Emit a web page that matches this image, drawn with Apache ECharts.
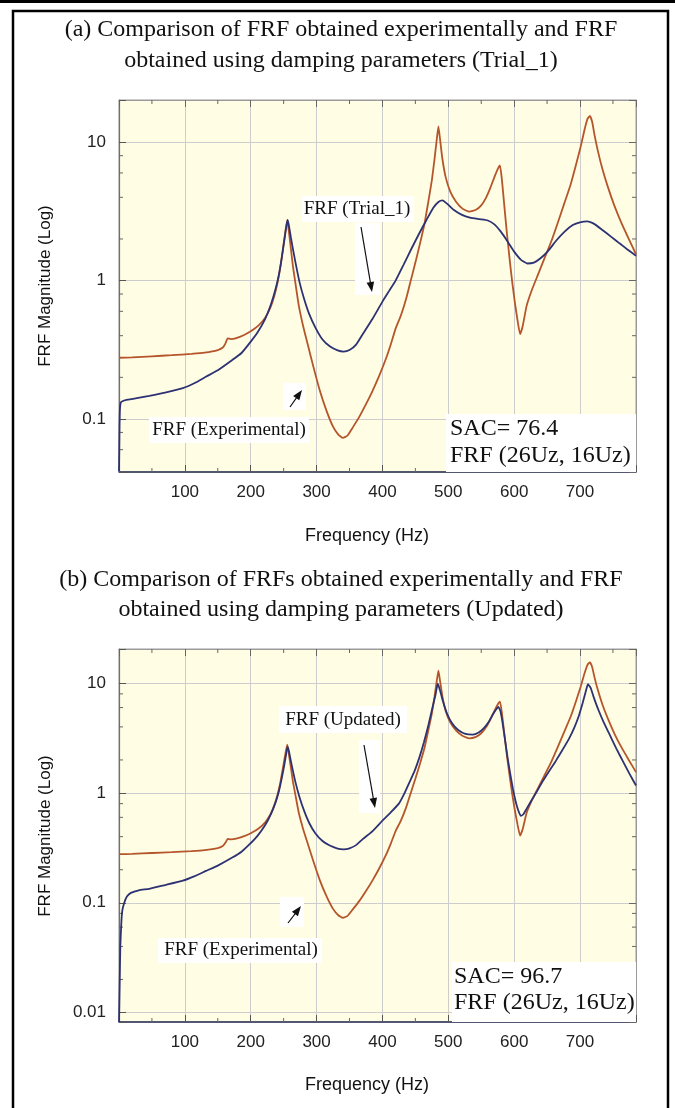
<!DOCTYPE html>
<html>
<head>
<meta charset="utf-8">
<script src="https://cdn.jsdelivr.net/npm/echarts@6/dist/echarts.min.js"></script>
<style>html,body{margin:0;padding:0;background:#fff;}#c{width:675px;height:1108px;}</style>
</head>
<body>
<div id="c"></div>
<script>
// ---- Data ----
const expFreq = [0,20,50,80,110,130,150,158,162,165,170,178,190,200,212,222,230,236,241,245,249,252.5,255.5,258,261,264,268,273,280,287,295,305,315,325,333,340,347,355,365,375,385,395,405,413,420,428,436,443,450,457,464,470,475,479,482.5,485,487.5,491,496,503,512,522,532,542,550,557,564,570,575,578.5,581.5,585,589,593,597,601,605,609,613,619,627,636,646,656,666,676,686,694,701,707,711.5,715,718.5,722,727,734,742,752,763,774,785];
const expMag = [0.277,0.279,0.284,0.289,0.296,0.302,0.315,0.33,0.355,0.382,0.378,0.384,0.405,0.43,0.475,0.54,0.64,0.78,0.98,1.25,1.7,2.25,2.75,2.25,1.7,1.28,0.95,0.66,0.46,0.34,0.24,0.16,0.115,0.088,0.077,0.073,0.076,0.087,0.104,0.128,0.16,0.205,0.27,0.35,0.45,0.56,0.74,1.0,1.35,1.85,2.6,3.8,5.3,7.5,10.5,13.0,10.5,7.6,5.6,4.4,3.7,3.3,3.15,3.25,3.5,3.95,4.7,5.6,6.4,6.8,5.3,3.5,2.2,1.45,0.98,0.7,0.52,0.41,0.47,0.66,0.86,1.1,1.45,1.9,2.6,3.6,5.0,6.9,9.3,12.4,14.8,15.5,14.0,11.3,8.7,6.4,4.8,3.5,2.6,2.0,1.55];

const trialFreq = [0,0.4,0.8,1.3,2,3,6,10,25,46,70,97,115,132,150,172,186,198,210,222,231,238,243,247,251,254,256,258,261,264,268,274,281,289,298,309,320,332,341,350,360,370,385,400,410,420,432,444,456,467,477,485,491,498,508,520,533,547,560,570,580,590,600,610,620,630,640,652,664,677,689,700,711,722,734,747,760,772,785];
const trialMag = [0.042,0.06,0.09,0.115,0.127,0.132,0.135,0.137,0.141,0.147,0.155,0.167,0.182,0.202,0.225,0.267,0.3,0.352,0.42,0.53,0.68,0.88,1.12,1.45,1.95,2.45,2.75,2.5,2.05,1.7,1.35,0.98,0.74,0.57,0.46,0.375,0.335,0.313,0.307,0.315,0.345,0.41,0.53,0.705,0.84,1.0,1.3,1.7,2.2,2.75,3.35,3.7,3.8,3.6,3.25,3.0,2.85,2.78,2.72,2.55,2.25,1.92,1.62,1.42,1.33,1.35,1.45,1.65,1.95,2.27,2.52,2.64,2.68,2.56,2.32,2.08,1.86,1.68,1.51];

const updFreq = [0,0.5,1,2,3.5,5,8,12,18,30,46,70,97,115,132,150,172,186,198,210,222,231,238,243,247,251,254,256,258,261,264,268,274,281,289,298,309,320,332,341,350,360,370,385,400,412,425,433,441,449,456,463,470,476,480.5,484,487.5,492,498,506,515,526,537,546,554,561,567,572,576,579,582,586,590,594,598,602,606,610,614,619,626,634,643,653,663,673,683,691,698,704,708.5,712,716,721,728,736,745,755,765,775,785];
const updMag = [0.0082,0.012,0.018,0.04,0.065,0.085,0.1,0.114,0.123,0.13,0.134,0.145,0.159,0.175,0.195,0.218,0.258,0.292,0.34,0.405,0.51,0.65,0.83,1.05,1.35,1.8,2.3,2.63,2.4,1.95,1.6,1.25,0.92,0.69,0.53,0.43,0.365,0.332,0.312,0.307,0.313,0.335,0.38,0.45,0.56,0.66,0.8,0.98,1.25,1.6,2.1,2.9,4.2,6.0,7.8,9.9,8.6,6.8,5.3,4.3,3.75,3.45,3.4,3.55,3.9,4.4,5.1,5.7,6.1,5.6,4.5,3.1,2.1,1.5,1.1,0.85,0.7,0.62,0.64,0.72,0.85,1.02,1.27,1.58,1.95,2.45,3.1,3.9,5.0,6.6,8.3,9.8,9.1,7.4,5.7,4.4,3.4,2.55,1.95,1.5,1.17];

const xTickLabels = ['100','200','300','400','500','600','700'];
const yTickLabels = {'-2':'0.01','-1':'0.1','0':'1','1':'10'};
const xMinorTicks = [50,150,250,350,450,550,650,750];
const yMinorTicks = [0.02,0.04,0.06,0.08,0.2,0.4,0.6,0.8,2,4,6,8];

const X_MIN = 0, X_MAX = 785;
const Y_RANGE = [[0.0414, 20.2],[0.0082, 20.5]];

// ---- Styles ----
const BROWN = '#b5552c', BLUE = '#2c3274';
const SERIF = '"Liberation Serif", "Times New Roman", serif';
const SANS = '"Liberation Sans", Arial, sans-serif';
const PLOT_BG = '#fffde3';

const zip = (a, b) => a.map((f, i) => [f, b[i]]);

const chart = echarts.init(document.getElementById('c'), null, {renderer: 'canvas'});

function xAxes(gi) {
  return [{
    gridIndex: gi, type: 'value', min: X_MIN, max: X_MAX, interval: 100, position: 'bottom',
    axisLine: {show: true, onZero: false, lineStyle: {color: '#2d3157', width: 1.5}},
    axisTick: {show: true, inside: true, length: 7, lineStyle: {color: '#555'}},
    axisLabel: {fontSize: 17, fontFamily: SANS, color: '#222', margin: 12,
      formatter: v => { const i = Math.round(v / 100) - 1; return (Math.abs(v % 100) < 1e-6 && xTickLabels[i]) ? xTickLabels[i] : ''; }},
    splitLine: {show: true, lineStyle: {color: '#cdcdcd', width: 1}}
  }, {
    gridIndex: gi, type: 'value', min: X_MIN, max: X_MAX, interval: 100, position: 'top',
    axisLine: {show: true, onZero: false, lineStyle: {color: '#9a9a9a'}},
    axisTick: {show: true, inside: true, length: 7, lineStyle: {color: '#666'}},
    axisLabel: {show: false}, splitLine: {show: false}
  }];
}
function yAxes(gi) {
  const [mn, mx] = Y_RANGE[gi];
  return [{
    gridIndex: gi, type: 'log', logBase: 10, min: mn, max: mx, position: 'left',
    axisLine: {show: true, onZero: false, lineStyle: {color: '#707070', width: 1.2}},
    axisTick: {show: true, inside: true, length: 7, lineStyle: {color: '#555'}},
    axisLabel: {fontSize: 17, fontFamily: SANS, color: '#222', margin: 13,
      formatter: v => { const l = Math.log10(v); const r = Math.round(l); return Math.abs(l - r) < 1e-6 && yTickLabels[r] ? yTickLabels[r] : ''; }},
    splitLine: {show: true, lineStyle: {color: '#cdcdcd', width: 1}}
  }, {
    gridIndex: gi, type: 'log', logBase: 10, min: mn, max: mx, position: 'right',
    axisLine: {show: true, onZero: false, lineStyle: {color: '#9a9a9a'}},
    axisTick: {show: true, inside: true, length: 7, lineStyle: {color: '#666'}},
    axisLabel: {show: false}, splitLine: {show: false}
  }];
}

function minorY(gi) {
  const [mn, mx] = Y_RANGE[gi];
  return {
    type: 'custom', xAxisIndex: gi * 2, yAxisIndex: gi * 2, silent: true, z: 5,
    data: yMinorTicks.filter(v => v > mn && v < mx).map(v => [X_MIN, v]),
    renderItem: (params, api) => {
      const v = api.value(1);
      const a = api.coord([X_MIN, v]), b = api.coord([X_MAX, v]);
      const st = {stroke: '#666', lineWidth: 1};
      return {type: 'group', children: [
        {type: 'line', shape: {x1: a[0], y1: a[1], x2: a[0] + 4, y2: a[1]}, style: st},
        {type: 'line', shape: {x1: b[0] - 4, y1: b[1], x2: b[0], y2: b[1]}, style: st}
      ]};
    }
  };
}
function minorX(gi) {
  const [mn, mx] = Y_RANGE[gi];
  return {
    type: 'custom', xAxisIndex: gi * 2, yAxisIndex: gi * 2, silent: true, z: 5,
    data: xMinorTicks.map(f => [f, mn]),
    renderItem: (params, api) => {
      const f = api.value(0);
      const a = api.coord([f, mn]), b = api.coord([f, mx]);
      const st = {stroke: '#666', lineWidth: 1};
      return {type: 'group', children: [
        {type: 'line', shape: {x1: a[0], y1: a[1], x2: a[0], y2: a[1] - 4}, style: st},
        {type: 'line', shape: {x1: b[0], y1: b[1], x2: b[0], y2: b[1] + 4}, style: st}
      ]};
    }
  };
}
function lineSeries(gi, data, color, z) {
  return {
    type: 'line', xAxisIndex: gi * 2, yAxisIndex: gi * 2, data: data,
    showSymbol: false, smooth: 0.15, z: z,
    lineStyle: {color: color, width: 1.8}, clip: true
  };
}

function txt(x, y, s, size, fam, align, extra) {
  return Object.assign({type: 'text', x: x, y: y, z: 100,
    style: {text: s, fontSize: size, fontFamily: fam, fill: '#111',
      align: align || 'center', verticalAlign: 'middle', textAlign: align || 'center', textVerticalAlign: 'middle'}}, extra || {});
}
function box(x, y, w, h) {
  return {type: 'rect', z: 99, shape: {x: x, y: y, width: w, height: h}, style: {fill: '#fff'}};
}
function arrow(x1, y1, x2, y2) {
  const dx = x2 - x1, dy = y2 - y1, L = Math.hypot(dx, dy);
  const ux = dx / L, uy = dy / L, nx = -uy, ny = ux, h = 10, w = 3.8;
  return [
    {type: 'line', z: 100, shape: {x1: x1, y1: y1, x2: x2 - ux * h * 0.6, y2: y2 - uy * h * 0.6}, style: {stroke: '#111', lineWidth: 1.2}},
    {type: 'polygon', z: 100, shape: {points: [[x2, y2], [x2 - ux * h + nx * w, y2 - uy * h + ny * w], [x2 - ux * h - nx * w, y2 - uy * h - ny * w]]}, style: {fill: '#111'}}
  ];
}

const graphics = [
  {type: 'rect', z: 100, shape: {x: 0, y: 0, width: 675, height: 3}, style: {fill: '#000'}},
  {type: 'rect', z: 100, shape: {x: 13, y: 11, width: 655, height: 1110}, style: {fill: 'none', stroke: '#000', lineWidth: 2.5}},
  txt(341, 30, '(a) Comparison of FRF obtained experimentally and FRF', 24, SERIF),
  txt(341, 61, 'obtained using damping parameters (Trial_1)', 24, SERIF),
  txt(341, 580, '(b) Comparison of FRFs obtained experimentally and FRF', 24, SERIF),
  txt(341, 610, 'obtained using damping parameters (Updated)', 24, SERIF),
  txt(45, 286, 'FRF Magnitude (Log)', 17, SANS, 'center', {rotation: Math.PI / 2}),
  txt(45, 836, 'FRF Magnitude (Log)', 17, SANS, 'center', {rotation: Math.PI / 2}),
  txt(367, 536, 'Frequency (Hz)', 18, SANS),
  txt(367, 1085, 'Frequency (Hz)', 18, SANS),
  // top annotations
  box(302, 196, 112, 26), txt(357, 209, 'FRF (Trial_1)', 19, SERIF),
  box(355, 223, 25, 72), ...arrow(361, 227, 372, 292),
  box(149, 417, 160, 26), txt(229, 430, 'FRF (Experimental)', 19, SERIF),
  box(283, 383, 23, 27), ...arrow(290, 407, 302, 390),
  box(446, 414, 190, 58),
  txt(450, 429, 'SAC= 76.4', 24, SERIF, 'left'),
  txt(450, 456, 'FRF (26Uz, 16Uz)', 24, SERIF, 'left'),
  // bottom annotations
  box(279, 706, 128, 27), txt(343, 720, 'FRF (Updated)', 19, SERIF),
  box(359, 740, 21, 73), ...arrow(364, 745, 375, 808),
  box(158, 938, 164, 25), txt(241, 950, 'FRF (Experimental)', 19, SERIF),
  box(280, 897, 24, 30), ...arrow(288, 923, 301, 906),
  box(452, 962, 184, 60),
  txt(454, 977, 'SAC= 96.7', 24, SERIF, 'left'),
  txt(454, 1003, 'FRF (26Uz, 16Uz)', 24, SERIF, 'left')
];

const option = {
  animation: false,
  backgroundColor: '#fff',
  grid: [
    {left: 119, top: 100, width: 517, height: 372, show: true, backgroundColor: PLOT_BG, borderColor: '#9a9a9a', borderWidth: 1},
    {left: 119, top: 649, width: 517, height: 373, show: true, backgroundColor: PLOT_BG, borderColor: '#9a9a9a', borderWidth: 1}
  ],
  xAxis: [...xAxes(0), ...xAxes(1)],
  yAxis: [...yAxes(0), ...yAxes(1)],
  series: [
    minorY(0), minorX(0), minorY(1), minorX(1),
    lineSeries(0, zip(expFreq, expMag), BROWN, 10),
    lineSeries(0, zip(trialFreq, trialMag), BLUE, 11),
    lineSeries(1, zip(expFreq, expMag), BROWN, 10),
    lineSeries(1, zip(updFreq, updMag), BLUE, 11)
  ],
  graphic: {elements: graphics}
};
chart.setOption(option);
</script>
</body>
</html>
